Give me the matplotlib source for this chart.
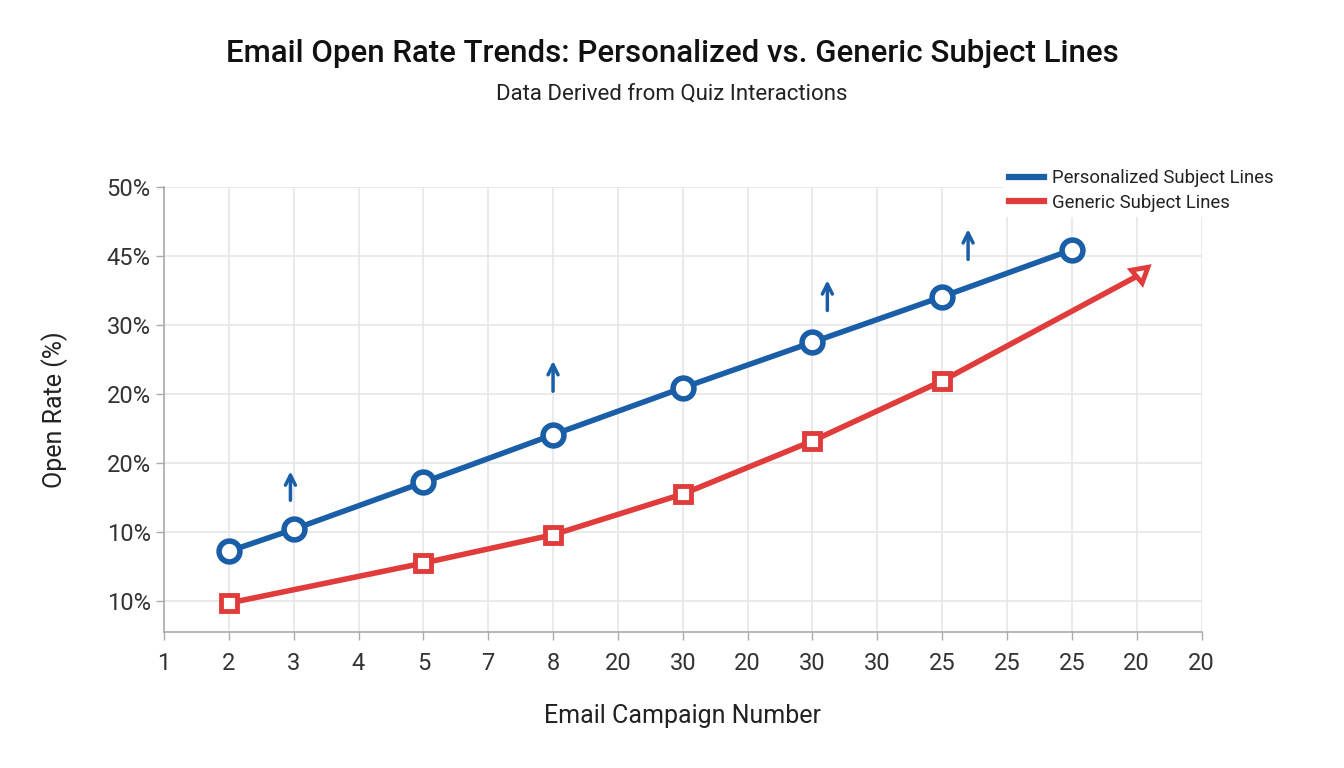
import numpy as np
import matplotlib.pyplot as plt
from matplotlib.lines import Line2D

plt.rcParams['font.family'] = ['Roboto', 'DejaVu Sans']

# x축 눈금 라벨 (위치는 순서대로)
x_labels = ['1', '2', '3', '4', '5', '7', '8', '20', '30', '20',
            '30', '30', '25', '25', '25', '20', '20']
y_labels = ['10%', '10%', '20%', '20%', '30%', '45%', '50%']

# 개인화 제목 (x 위치, 값)
pers_x = [1, 2, 4, 6, 8, 10, 12, 14]
pers_y = [0.72, 1.04, 1.72, 2.41, 3.09, 3.75, 4.41, 5.09]

# 일반 제목
gen_x = [1, 4, 6, 8, 10, 12]
gen_y = [-0.03, 0.55, 0.96, 1.55, 2.32, 3.19]
gen_end = (15.05, 4.75)

# 위쪽 화살표 (x, 시작, 끝)
arrows_x = [1.95, 6.0, 10.23, 12.4]
arrows_y0 = [1.42, 3.00, 4.17, 4.91]
arrows_y1 = [1.92, 3.52, 4.69, 5.43]

blue = '#1a5ea8'
red = '#e03c3c'

fig = plt.figure(figsize=(13.44, 7.68), dpi=100)
ax = fig.add_axes([0.122, 0.177, 0.772, 0.5795])

ax.plot(pers_x, pers_y, color=blue, lw=4, marker='o', ms=15,
        mfc='white', mec=blue, mew=4, zorder=4)
ax.plot(gen_x + [gen_end[0] - 0.1], gen_y + [gen_end[1] - 0.07], color=red, lw=4,
        marker='', zorder=3)
ax.plot(gen_x, gen_y, color=red, lw=0, marker='s', ms=11,
        mfc='white', mec=red, mew=3.5, zorder=4)
ax.plot([gen_end[0]], [gen_end[1]], color=red, lw=0, marker=(3, 0, 190), ms=14,
        mfc='white', mec=red, mew=3.5, zorder=5)

for xa, y0, y1 in zip(arrows_x, arrows_y0, arrows_y1):
    ax.annotate('', xy=(xa, y1), xytext=(xa, y0),
                arrowprops=dict(arrowstyle='->', color=blue, lw=2.5,
                                mutation_scale=18))

ax.set_xlim(0, 16)
ax.set_ylim(-0.45, 6)
ax.set_xticks(range(len(x_labels)))
ax.set_xticklabels(x_labels)
ax.set_yticks(range(len(y_labels)))
ax.set_yticklabels(y_labels)
ax.tick_params(axis='both', labelsize=17, colors='#aaaaaa', labelcolor='#333333',
               length=6, width=1)
ax.tick_params(axis='x', pad=8)
ax.grid(True, color='#e6e6e6', lw=1.2)
ax.set_axisbelow(True)
for s in ['top', 'right']:
    ax.spines[s].set_visible(False)
for s in ['left', 'bottom']:
    ax.spines[s].set_color('#aaaaaa')
    ax.spines[s].set_linewidth(1.2)

ax.set_xlabel('Email Campaign Number', fontsize=18, color='#222222', labelpad=21)
ax.set_ylabel('Open Rate (%)', fontsize=18, color='#222222', labelpad=28)

fig.text(0.5, 0.930, 'Email Open Rate Trends: Personalized vs. Generic Subject Lines',
         ha='center', va='center', fontsize=22.5, fontweight='medium', color='#111111')
fig.text(0.5, 0.878, 'Data Derived from Quiz Interactions',
         ha='center', va='center', fontsize=16, color='#222222')

handles = [Line2D([], [], color=blue, lw=4.5),
           Line2D([], [], color=red, lw=4.5)]
labels = ['Personalized Subject Lines', 'Generic Subject Lines']
leg = fig.legend(handles, labels, loc='upper left', bbox_to_anchor=(0.7395, 0.799),
                 frameon=True, fontsize=13.3, handlelength=1.9, handletextpad=0.45,
                 labelspacing=0.35, borderpad=0.3, labelcolor='#222222')
leg.get_frame().set_edgecolor('none')
leg.get_frame().set_facecolor('white')
leg.get_frame().set_alpha(1)

plt.savefig('out.png')
